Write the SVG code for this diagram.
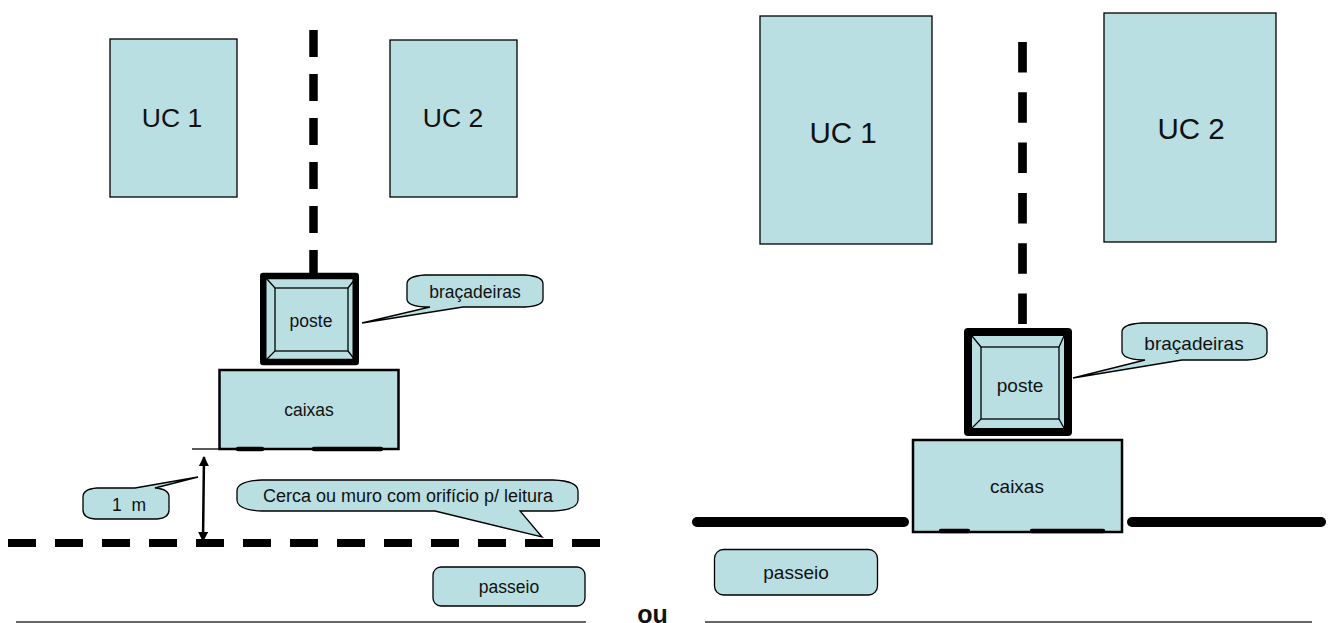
<svg xmlns="http://www.w3.org/2000/svg" width="1329" height="623" viewBox="0 0 1329 623">
<style>
.b{fill:#b9dfe2;stroke:#000;stroke-width:1.3}
.c{fill:#b9dfe2;stroke:#000;stroke-width:2.5}
.t{font-family:"Liberation Sans",Arial,sans-serif;fill:#111;text-anchor:middle}
.s{font-size:17.5px}.m{font-size:19px}.l{font-size:26.500px}.x{font-size:29.500px}
.f{fill:none;stroke:#000;stroke-width:1.3}
.dash{fill:none;stroke:#000}
.solid{fill:none;stroke:#000;stroke-width:10;stroke-linecap:round}
.foot{stroke:#000;stroke-width:4.500;stroke-linecap:round}
.rule{stroke:#333;stroke-width:1.5}
</style>
<defs>
<marker id="ah" viewBox="0 0 10 10" refX="9" refY="5" markerWidth="10" markerHeight="10" markerUnits="userSpaceOnUse" orient="auto-start-reverse"><path d="M0 0L10 5L0 10Z" fill="#000"/></marker>
</defs>
<g id="connectors">
<path class="dash" d="M313.500 30V273" stroke-width="8.500" stroke-dasharray="27 17"/>
<path class="dash" d="M1022.500 42V324" stroke-width="8.700" stroke-dasharray="30.500 19.800"/>
<path class="dash" d="M8 543H601" stroke-width="8" stroke-dasharray="28 19"/>
<path class="solid" d="M697 522H904"/>
<path class="solid" d="M1132 522H1321"/>
<path d="M204 457L203 541" fill="none" stroke="#000" stroke-width="2.500" marker-start="url(#ah)" marker-end="url(#ah)"/>
<path d="M192 449H219" class="f"/>
<path class="rule" d="M16 622H586"/>
<path class="rule" d="M705 622H1312"/>
</g>
<g id="uc1-a"><rect class="b" x="110" y="39" width="127" height="158"/><text class="t l" x="172" y="127">UC 1</text></g>
<g id="uc2-a"><rect class="b" x="390" y="40" width="127" height="157"/><text class="t l" x="453" y="127">UC 2</text></g>
<g id="uc1-b"><rect class="b" x="760" y="16" width="172" height="228"/><text class="t x" x="843" y="143">UC 1</text></g>
<g id="uc2-b"><rect class="b" x="1104" y="13" width="172" height="229"/><text class="t x" x="1191" y="139">UC 2</text></g>
<g id="poste-a">
<rect x="263.250" y="276" width="92.500" height="86" fill="#b9dfe2" stroke="#000" stroke-width="6.500" stroke-linejoin="round"/>
<rect class="b" x="275" y="288" width="73" height="63"/>
<path class="f" d="M266 278L275 288M355 279L348 288M266 360L275 351M355 360L348 351"/>
<text class="t s" x="311" y="327">poste</text>
</g>
<g id="poste-b">
<rect x="968" y="332" width="100" height="100" fill="#b9dfe2" stroke="#000" stroke-width="8" stroke-linejoin="round"/>
<rect class="b" x="981" y="347" width="78" height="72"/>
<path class="f" d="M972 336L981 347M1064 336L1059 347M972 428L981 419M1064 428L1059 419"/>
<text class="t m" x="1020" y="392">poste</text>
</g>
<g id="caixas-a">
<rect class="c" x="219.500" y="370" width="179" height="79"/>
<path class="foot" d="M238 449H262M314 449H381"/>
<text class="t s" x="309" y="416">caixas</text>
</g>
<g id="caixas-b">
<rect class="c" x="913" y="440" width="209" height="92"/>
<path class="foot" d="M941 531H968M1032 531H1103"/>
<text class="t m" x="1017" y="493">caixas</text>
</g>
<g id="bubble-bracadeiras-a">
<path class="b" d="M425 275H525Q543 276 543 284V299Q543 306 525 307H463L362 323L430 307H425Q407 306 407 299V284Q407 276 425 275Z"/>
<text class="t s" x="475" y="298">braçadeiras</text>
</g>
<g id="bubble-bracadeiras-b">
<path class="b" d="M1142 323H1247Q1267 324 1267 332V351Q1267 359 1247 360H1182L1073 378L1145 360H1142Q1122 359 1122 351V332Q1122 324 1142 323Z"/>
<text class="t m" x="1194" y="350">braçadeiras</text>
</g>
<g id="bubble-1m">
<path class="b" d="M97 488H135L198 477L155 488Q169 489 169 497V510Q169 518 157 519H95Q83 518 83 510V497Q83 489 97 488Z"/>
<text class="t s" x="129" y="511" xml:space="preserve">1  m</text>
</g>
<g id="bubble-cerca">
<path class="b" d="M262 480H553Q578 481 578 491V500Q578 510 553 511H520L542 537L435 511H262Q237 510 237 500V491Q237 481 262 480Z"/>
<text class="t" style="font-size:18px" x="408" y="502">Cerca ou muro com orifício p/ leitura</text>
</g>
<g id="passeio-a">
<rect class="b" x="433" y="567" width="152" height="39" rx="8"/>
<text class="t s" x="509" y="593">passeio</text>
</g>
<g id="passeio-b">
<rect class="b" x="714.500" y="549.500" width="163" height="45.500" rx="9"/>
<text class="t m" x="796" y="579">passeio</text>
</g>
<text id="ou" class="t" x="652.500" y="623" style="font-size:25px;font-weight:bold">ou</text>
</svg>
